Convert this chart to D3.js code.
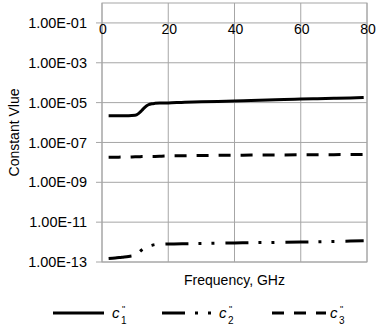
<!DOCTYPE html>
<html>
<head>
<meta charset="utf-8">
<script src="https://cdn.jsdelivr.net/npm/d3@7"></script>
<style>
  body { margin: 0; background: #fff; }
  text { font-family: "Liberation Sans", Arial, sans-serif; fill: #000; }
</style>
</head>
<body>
<svg id="chart"></svg>
<script>
// frequency points, GHz
const freq = [2, 4, 6, 8, 10, 11, 12, 13, 14, 15, 16, 18, 20, 25, 30, 35, 40, 45, 50, 55, 60, 65, 70, 75, 79];

// constant values
const c1 = [2.2e-6, 2.2e-6, 2.2e-6, 2.2e-6, 2.3e-6, 2.8e-6, 4.0e-6, 6.0e-6, 7.8e-6, 8.8e-6, 9.2e-6, 9.5e-6, 9.7e-6,
            1.05e-5, 1.1e-5, 1.15e-5, 1.2e-5, 1.28e-5, 1.35e-5, 1.42e-5, 1.5e-5, 1.57e-5, 1.64e-5, 1.72e-5, 1.8e-5];
const c2 = [1.5e-13, 1.6e-13, 1.75e-13, 1.9e-13, 2.2e-13, 2.9e-13, 4.0e-13, 5.0e-13, 6.0e-13, 6.8e-13, 7.5e-13, 7.8e-13, 8.0e-13,
            8.3e-13, 8.5e-13, 8.8e-13, 9.0e-13, 9.3e-13, 9.5e-13, 9.8e-13, 1.0e-12, 1.04e-12, 1.08e-12, 1.12e-12, 1.15e-12];
const c3 = [1.8e-8, 1.8e-8, 1.85e-8, 1.85e-8, 1.9e-8, 1.9e-8, 1.95e-8, 1.95e-8, 2.0e-8, 2.0e-8, 2.0e-8, 2.05e-8, 2.1e-8,
            2.15e-8, 2.2e-8, 2.25e-8, 2.3e-8, 2.32e-8, 2.35e-8, 2.37e-8, 2.4e-8, 2.42e-8, 2.45e-8, 2.47e-8, 2.5e-8];

const xTicks = [0, 20, 40, 60, 80];
const yTicks = [1e-1, 1e-3, 1e-5, 1e-7, 1e-9, 1e-11, 1e-13];

const width = 376, height = 330;
const plotLeft = 102, plotRight = 367, plotTop = 3, plotBottom = 262;

const svg = d3.select('#chart')
    .attr('width', width)
    .attr('height', height);

const x = d3.scaleLinear().domain([0, 80]).range([plotLeft, plotRight]);
const y = d3.scaleLog().domain([1e-13, 1]).range([plotBottom, plotTop]);

const fmt = d => {
    const e = Math.round(Math.log10(d));
    const s = Math.abs(e) < 10 ? '0' + Math.abs(e) : '' + Math.abs(e);
    return '1.00E' + (e < 0 ? '-' : '+') + s;
};

// grid
svg.append('g').selectAll('line')
    .data(yTicks)
    .enter().append('line')
    .attr('x1', plotLeft - 6).attr('x2', plotRight)
    .attr('y1', d => y(d)).attr('y2', d => y(d))
    .attr('stroke', '#a6a6a6').attr('stroke-width', 1);

svg.append('g').selectAll('line')
    .data(xTicks)
    .enter().append('line')
    .attr('x1', d => x(d)).attr('x2', d => x(d))
    .attr('y1', plotTop).attr('y2', plotBottom)
    .attr('stroke', '#a6a6a6').attr('stroke-width', 1);

// plot border
svg.append('rect')
    .attr('x', plotLeft).attr('y', plotTop)
    .attr('width', plotRight - plotLeft).attr('height', plotBottom - plotTop)
    .attr('fill', 'none').attr('stroke', '#a6a6a6');

// y labels
svg.append('g').selectAll('text')
    .data(yTicks)
    .enter().append('text')
    .attr('x', 87).attr('y', d => y(d))
    .attr('dy', '0.35em')
    .attr('text-anchor', 'end')
    .style('font-size', '14.5px')
    .text(fmt);

// x labels sit just under the 1E-01 line
svg.append('g').selectAll('text')
    .data(xTicks)
    .enter().append('text')
    .attr('x', d => x(d) + 1).attr('y', y(1e-1) + 11)
    .attr('text-anchor', 'middle')
    .style('font-size', '14px')
    .text(d => d);

// axis titles
svg.append('text')
    .attr('x', (plotLeft + plotRight) / 2).attr('y', 285)
    .attr('text-anchor', 'middle')
    .style('font-size', '14px')
    .text('Frequency, GHz');

svg.append('text')
    .attr('transform', `translate(19, ${(plotTop + plotBottom) / 2}) rotate(-90)`)
    .attr('text-anchor', 'middle')
    .style('font-size', '14px')
    .text('Constant Vlue');

// series
const series = [
    { name: '1', values: c1, dash: null },
    { name: '2', values: c2, dash: '23,10,3,10,3,11' },
    { name: '3', values: c3, dash: '12,10' }
];

const line = d3.line()
    .x(d => x(d[0]))
    .y(d => y(d[1]))
    .curve(d3.curveMonotoneX);

svg.append('g').selectAll('path')
    .data(series)
    .enter().append('path')
    .attr('d', s => line(freq.map((f, i) => [f, s.values[i]])))
    .attr('fill', 'none')
    .attr('stroke', '#000')
    .attr('stroke-width', 3)
    .attr('stroke-dasharray', s => s.dash);

// legend
const legendY = 313;
const legendItems = [
    { x0: 53, x1: 104, tx: 112, dash: null },
    { x0: 162, x1: 212, tx: 219, dash: '23,10,3,10,3,11' },
    { x0: 272, x1: 326, tx: 330, dash: '12,10' }
];

const lg = svg.append('g').selectAll('g')
    .data(legendItems)
    .enter().append('g');

lg.append('line')
    .attr('x1', d => d.x0).attr('x2', d => d.x1)
    .attr('y1', legendY).attr('y2', legendY)
    .attr('stroke', '#000').attr('stroke-width', 3)
    .attr('stroke-dasharray', d => d.dash);

lg.append('text')
    .attr('x', d => d.tx).attr('y', legendY + 5)
    .style('font-size', '15px').style('font-style', 'italic')
    .text('c');

lg.append('text')
    .attr('x', d => d.tx + 10).attr('y', legendY - 1)
    .style('font-size', '9px')
    .text('"');

lg.append('text')
    .attr('x', d => d.tx + 9).attr('y', legendY + 11)
    .style('font-size', '10px')
    .text((d, i) => series[i].name);
</script>
</body>
</html>
